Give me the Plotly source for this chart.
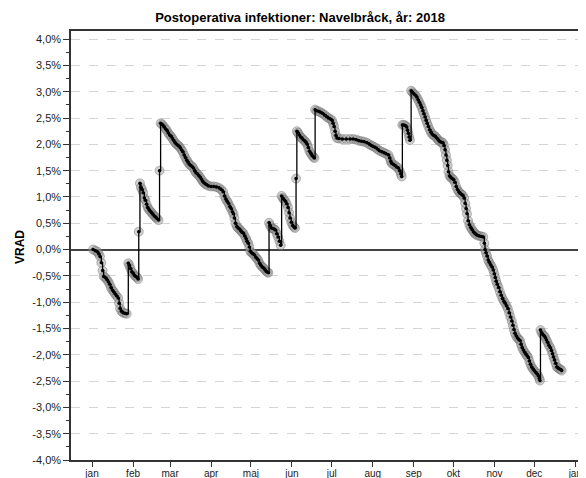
import plotly.graph_objects as go
import pandas as pd

# ---- data (day offset from 2018-01-01, VRAD in percent) ----
day_offset = [
    0.8, 2.5, 4.0, 5.0, 6.0, 7.0, 8.0, 8.8, 10.0, 11.2, 12.3, 13.3, 14.3, 15.3, 16.3, 17.3, 18.5, 19.7,
    20.5, 21.2, 22.2, 23.4, 24.8, 26.2,
    27.4, 28.2, 29.0, 30.0, 31.0, 32.0, 33.0, 34.0, 34.8,
    35.3, 36.2, 37.0, 37.8, 38.6, 39.5, 40.3, 41.2, 42.0, 43.0, 44.0, 45.0, 46.0, 47.0, 48.0, 49.0, 50.2,
    51.0, 51.8, 53.0, 54.2, 55.3, 56.4, 57.5, 58.5, 59.5, 60.5, 61.5, 62.5, 63.5, 64.5, 65.5, 66.5,
    67.5, 68.5, 69.5, 70.5, 71.5, 72.5, 73.5, 74.5, 75.5, 76.5, 77.5, 78.5, 79.5, 80.5, 81.5, 82.5,
    83.5, 84.5, 85.5, 86.6, 88.0, 90.0, 92.0, 94.0, 96.0, 97.5, 99.0, 100.0, 101.0, 102.0, 103.0,
    104.0, 105.0, 106.0, 106.8, 107.5, 108.3, 109.3, 110.3, 111.3, 112.3, 113.3, 114.3, 115.3, 116.3,
    117.0, 118.0, 118.8, 119.5, 120.5, 121.5, 122.5, 123.5, 124.5, 125.5, 126.5, 127.5, 128.5, 129.5,
    130.5, 131.5, 132.5, 133.2,
    133.7, 134.5, 135.5, 136.5, 137.5, 138.5, 139.5, 140.5, 141.5, 142.5,
    143.2, 144.0, 145.0, 146.0, 147.0, 148.0, 148.8, 149.5, 150.5, 151.5, 152.5, 153.3,
    154.1, 154.7, 155.5, 156.5, 157.5, 158.5, 159.5, 160.5, 161.5, 162.5, 163.3, 164.2, 165.2, 166.2,
    167.2, 168.0,
    168.5, 169.5, 171.0, 172.5, 174.0, 175.5, 177.0, 178.5, 180.0, 181.2, 182.0, 182.8, 183.5, 184.2,
    185.0, 186.5, 189.0, 192.0, 195.0, 197.3, 199.5, 201.5, 203.5, 205.5, 207.5, 209.5, 211.0, 212.4,
    214.0, 215.5, 217.0, 218.8, 220.5, 222.0, 223.8, 224.8, 225.6, 226.3, 227.5, 228.8, 230.0, 231.3,
    232.3, 233.2, 233.9,
    234.4, 235.5, 236.6, 237.6, 238.3, 238.9, 239.5, 240.1,
    241.0, 242.0, 243.0, 244.0, 245.2, 246.2, 247.2, 248.2, 249.0, 249.8, 250.6, 251.5, 252.3, 253.1,
    254.0, 255.0, 256.0, 257.0, 258.0, 259.0, 260.0, 261.0, 262.0, 263.0, 264.0, 265.0, 265.8, 266.6,
    267.3, 268.0, 268.6, 269.2, 270.0, 271.0, 272.0, 273.0, 274.0, 275.0, 276.0, 277.0, 278.0, 279.0,
    280.0, 281.0, 281.8, 282.5, 283.2, 284.0, 285.0, 286.0, 287.0, 288.0, 289.0, 290.0, 291.0, 292.5,
    294.0, 295.5, 296.3, 296.8, 297.5, 298.3, 299.2, 300.0, 301.0, 302.0, 303.0, 303.8, 304.5, 305.2,
    306.0, 307.0, 308.0, 309.0, 310.0, 311.0, 312.0, 313.0, 314.0, 315.0, 316.0, 317.0, 317.8, 318.6,
    319.4, 320.3, 321.3, 322.3, 323.2, 324.0, 324.8, 325.7, 326.7, 327.7, 328.6, 329.5, 330.3, 331.1,
    332.0, 333.0, 334.0, 335.0, 336.0, 337.0, 337.8, 338.3,
    338.7, 339.5, 340.5, 341.5, 342.3, 343.2, 344.0, 345.0, 346.0, 347.0, 347.8, 348.5, 349.3, 350.1,
    351.0, 352.0, 353.0, 354.0, 354.7,
]

vrad_pct = [
    0.00, -0.02, -0.04, -0.08, -0.13, -0.25, -0.40, -0.51, -0.53, -0.57, -0.61, -0.66, -0.72, -0.77, -0.80, -0.84, -0.88, -0.92,
    -1.02, -1.12, -1.17, -1.20, -1.21, -1.22,
    -0.26, -0.30, -0.36, -0.42, -0.45, -0.49, -0.51, -0.53, -0.56,
    0.34, 1.26, 1.18, 1.14, 1.08, 0.98, 0.94, 0.86, 0.80, 0.76, 0.73, 0.70, 0.67, 0.64, 0.62, 0.59, 0.56,
    1.50, 2.40, 2.38, 2.34, 2.30, 2.27, 2.22, 2.18, 2.16, 2.12, 2.08, 2.04, 2.01, 1.99, 1.97, 1.94,
    1.90, 1.86, 1.80, 1.75, 1.70, 1.66, 1.62, 1.60, 1.58, 1.55, 1.50, 1.46, 1.44, 1.41, 1.38, 1.34,
    1.30, 1.27, 1.25, 1.23, 1.21, 1.20, 1.20, 1.19, 1.17, 1.14, 1.10, 1.02, 0.96, 0.92, 0.88,
    0.82, 0.78, 0.72, 0.68, 0.60, 0.50, 0.44, 0.41, 0.39, 0.36, 0.33, 0.31, 0.26, 0.21,
    0.16, 0.12, 0.05, -0.03, -0.06, -0.08, -0.10, -0.14, -0.17, -0.20, -0.26, -0.30, -0.33, -0.35,
    -0.38, -0.41, -0.43, -0.44,
    0.51, 0.46, 0.41, 0.40, 0.39, 0.37, 0.30, 0.24, 0.16, 0.08,
    1.02, 0.98, 0.95, 0.92, 0.87, 0.80, 0.70, 0.60, 0.52, 0.46, 0.43, 0.41,
    1.35, 2.25, 2.22, 2.18, 2.14, 2.12, 2.09, 2.07, 2.04, 2.00, 1.94, 1.87, 1.83, 1.79,
    1.76, 1.74,
    2.66, 2.64, 2.63, 2.61, 2.59, 2.56, 2.53, 2.50, 2.48, 2.46, 2.40, 2.34, 2.25, 2.17,
    2.12, 2.11, 2.10, 2.10, 2.10, 2.10, 2.09, 2.07, 2.06, 2.05, 2.03, 2.00, 1.98, 1.96,
    1.94, 1.91, 1.88, 1.86, 1.84, 1.82, 1.80, 1.74, 1.68, 1.64, 1.62, 1.60, 1.57, 1.55,
    1.50, 1.44, 1.39,
    2.37, 2.37, 2.36, 2.33, 2.27, 2.21, 2.14, 2.08,
    3.02, 2.99, 2.96, 2.94, 2.90, 2.85, 2.80, 2.75, 2.70, 2.64, 2.58, 2.52, 2.46, 2.40,
    2.34, 2.28, 2.23, 2.19, 2.17, 2.16, 2.13, 2.10, 2.07, 2.05, 2.04, 2.03, 1.98, 1.90,
    1.80, 1.70, 1.60, 1.48, 1.40, 1.37, 1.35, 1.33, 1.28, 1.20, 1.14, 1.10, 1.07, 1.05,
    1.03, 0.98, 0.88, 0.78, 0.68, 0.55, 0.47, 0.42, 0.38, 0.34, 0.31, 0.29, 0.27, 0.26,
    0.25, 0.24, 0.12, 0.00, -0.06, -0.12, -0.20, -0.24, -0.29, -0.33, -0.39, -0.46, -0.53, -0.60,
    -0.66, -0.72, -0.80, -0.87, -0.93, -0.98, -1.02, -1.07, -1.12, -1.20, -1.28, -1.36, -1.44, -1.52,
    -1.59, -1.64, -1.68, -1.71, -1.73, -1.80, -1.86, -1.91, -1.95, -1.99, -2.02, -2.05, -2.12, -2.18,
    -2.23, -2.27, -2.30, -2.33, -2.36, -2.40, -2.45, -2.49,
    -1.53, -1.58, -1.62, -1.64, -1.67, -1.72, -1.76, -1.82, -1.86, -1.92, -1.98, -2.04, -2.10, -2.16,
    -2.23, -2.25, -2.27, -2.28, -2.30,
]

month_ticks = ["2018-01-01", "2018-02-01", "2018-03-01", "2018-04-01", "2018-05-01", "2018-06-01",
               "2018-07-01", "2018-08-01", "2018-09-01", "2018-10-01", "2018-11-01", "2018-12-01",
               "2019-01-01"]
month_labels = ["jan", "feb", "mar", "apr", "maj", "jun", "jul", "aug", "sep", "okt", "nov", "dec", "jan"]

y_tickvals = [-4.0, -3.5, -3.0, -2.5, -2.0, -1.5, -1.0, -0.5, 0.0, 0.5, 1.0, 1.5, 2.0, 2.5, 3.0, 3.5, 4.0]
y_ticktext = ["-4,0%", "-3,5%", "-3,0%", "-2,5%", "-2,0%", "-1,5%", "-1,0%", "-0,5%", "0,0%",
              "0,5%", "1,0%", "1,5%", "2,0%", "2,5%", "3,0%", "3,5%", "4,0%"]

base = pd.Timestamp("2018-01-01")
dates = [base + pd.Timedelta(days=d) for d in day_offset]

FONT = "Liberation Sans, Arial, sans-serif"
# the page body has an 8px default margin, so the figure is 8px smaller
W, H = 578, 470

fig = go.Figure()
# gray halo around each point
fig.add_trace(go.Scatter(
    x=dates, y=vrad_pct, mode="markers",
    marker=dict(size=9, color="rgba(150,150,150,0.45)",
                line=dict(color="rgba(110,110,110,0.45)", width=1)),
    hoverinfo="skip", showlegend=False,
))
# thin black step line
fig.add_trace(go.Scatter(
    x=dates, y=vrad_pct, mode="lines",
    line=dict(color="black", width=1.3, shape="hv"),
    hoverinfo="skip", showlegend=False,
))
# small dark point markers
fig.add_trace(go.Scatter(
    x=dates, y=vrad_pct, mode="markers",
    marker=dict(size=3.5, color="black"),
    showlegend=False,
))

fig.update_layout(
    width=W, height=H,
    margin=dict(l=63, r=0, t=23, b=18, autoexpand=False),
    paper_bgcolor="white", plot_bgcolor="white",
    font=dict(family=FONT, color="#222222", size=11),
    title=dict(text="<b>Postoperativa infektioner: Navelbråck, år: 2018</b>",
               x=292 / W, xref="container", xanchor="center",
               y=1 - 9.5 / H, yref="container", yanchor="middle",
               font=dict(family=FONT, size=13, color="black")),
    annotations=[dict(text="<b>VRAD</b>", textangle=-90, xref="paper", yref="paper",
                      x=(20 - 71) / 515, y=(460 - 247) / 429, xanchor="center", yanchor="middle",
                      showarrow=False, font=dict(family=FONT, size=12, color="black"))],
)

fig.update_xaxes(
    type="date", automargin=False,
    range=["2017-12-16 03:00", "2019-01-09 02:00"],
    tickvals=month_ticks, ticktext=month_labels,
    ticks="outside", ticklen=5, tickwidth=1, tickcolor="#333333",
    ticklabelstandoff=-2,
    tickfont=dict(family=FONT, size=10, color="#222222"),
    showgrid=False, zeroline=False,
    showline=True, linecolor="#333333", linewidth=1.5, mirror=True,
)

fig.update_yaxes(
    automargin=False,
    range=[-4.0, 4.155],
    tickvals=y_tickvals, ticktext=y_ticktext,
    ticks="outside", ticklen=6, tickwidth=1, tickcolor="#333333",
    tickfont=dict(family=FONT, size=11, color="#222222"),
    showgrid=True, gridcolor="#d4d4d4", gridwidth=1, griddash="dash",
    zeroline=True, zerolinecolor="#444444", zerolinewidth=1.5,
    showline=True, linecolor="#333333", linewidth=1.5,
    minor=dict(tick0=0, dtick=0.25, ticks="outside", ticklen=3, tickcolor="#333333", showgrid=False),
)

fig.write_html("out.html")
